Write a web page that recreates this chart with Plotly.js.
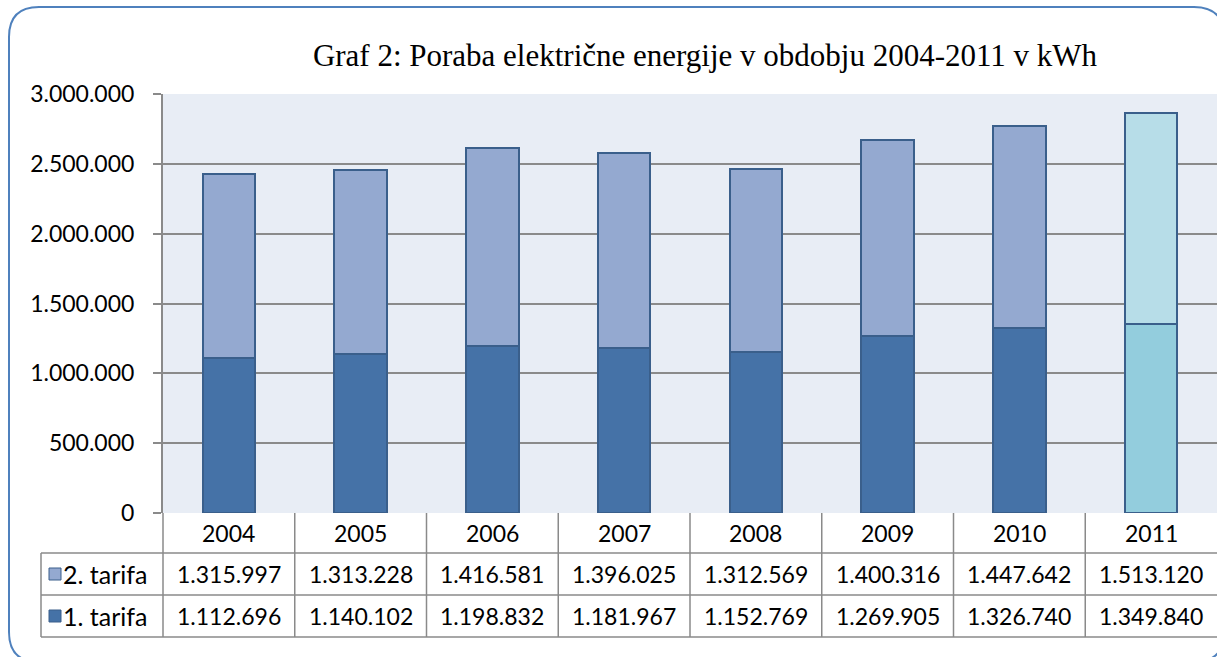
<!DOCTYPE html>
<html>
<head>
<meta charset="utf-8">
<script src="https://cdn.plot.ly/plotly-3.0.1.min.js"></script>
<style>
	html, body { margin: 0; padding: 0; background: #fff; }
	#chart { width: 1217px; height: 657px; }
</style>
</head>
<body>
<div id="chart"></div>
<script>
var years = ['2004', '2005', '2006', '2007', '2008', '2009', '2010', '2011'];
var tarifa1 = [1112696, 1140102, 1198832, 1181967, 1152769, 1269905, 1326740, 1349840];
var tarifa2 = [1315997, 1313228, 1416581, 1396025, 1312569, 1400316, 1447642, 1513120];
var seriesNames = ['2. tarifa', '1. tarifa'];

var chart = (function() {

	/* plot area in pixels */
	var W = 1217, H = 657;
	var left = 163, top = 94, bottom = 513;
	var plotW = W - left, plotH = bottom - top;

	function px(x) { return (x - left) / plotW; }
	function py(y) { return (bottom - y) / plotH; }

	function fmt(n) {
		return String(n).replace(/\B(?=(\d{3})+(?!\d))/g, '.');
	}

	var col1 = '#4572a7', col2 = '#94a9d0';
	var col1b = '#93cddd', col2b = '#b7dde8';
	var edge = '#3a5f8b';
	var grid = '#8a8a8a';
	var font = 'Lato, "Open Sans", sans-serif';

	var last = years.length - 1;
	var lowColors = years.map(function(y, i) { return i === last ? col1b : col1; });
	var topColors = years.map(function(y, i) { return i === last ? col2b : col2; });

	var data = [
		{ type: 'bar', name: seriesNames[1], x: years, y: tarifa1, width: 0.4,
		  marker: { color: lowColors, line: { color: edge, width: 2 } } },
		{ type: 'bar', name: seriesNames[0], x: years, y: tarifa2, width: 0.4,
		  marker: { color: topColors, line: { color: edge, width: 2 } } }
	];

	var shapes = [];
	var annotations = [];
	var lineStyle = { color: grid, width: 1.5 };

	function hline(y, x0, x1) {
		shapes.push({ type: 'line', xref: 'paper', yref: 'paper',
			x0: px(x0), x1: px(x1), y0: py(y), y1: py(y), line: lineStyle });
	}
	function vline(x, y0, y1) {
		shapes.push({ type: 'line', xref: 'paper', yref: 'paper',
			x0: px(x), x1: px(x), y0: py(y0), y1: py(y1), line: lineStyle });
	}

	// table grid
	hline(553, 41, W);
	hline(595, 41, W);
	hline(637, 41, W);
	vline(41, 553, 637);
	vline(left, 513, 637);
	for (var k = 0; k < years.length - 1; k++) {
		shapes.push({ type: 'line', xref: 'x', yref: 'paper',
			x0: k + 0.5, x1: k + 0.5, y0: py(513), y1: py(637), line: lineStyle });
	}

	// table text (category annotations are placed by index)
	var rows = [tarifa2, tarifa1];
	var rowY = [574, 616];
	years.forEach(function(yr, i) {
		annotations.push({ xref: 'x', yref: 'paper', x: i, y: py(533), text: yr,
			xanchor: 'center', yanchor: 'middle', showarrow: false,
			font: { family: font, size: 23, color: '#000' } });
		rows.forEach(function(vals, j) {
			annotations.push({ xref: 'x', yref: 'paper', x: i, y: py(rowY[j]), text: fmt(vals[i]),
				xanchor: 'center', yanchor: 'middle', showarrow: false,
				font: { family: font, size: 23, color: '#000' } });
		});
	});

	// legend keys in the table
	var keyColors = [col2, col1];
	seriesNames.forEach(function(name, j) {
		shapes.push({ type: 'rect', xref: 'paper', yref: 'paper',
			x0: px(49), x1: px(61), y0: py(rowY[j] - 6), y1: py(rowY[j] + 6),
			fillcolor: keyColors[j], line: { color: edge, width: 1 } });
		annotations.push({ xref: 'paper', yref: 'paper', x: px(61), y: py(rowY[j]),
			xanchor: 'left', yanchor: 'middle', text: name, showarrow: false,
			font: { family: font, size: 25, color: '#000' } });
	});

	// rounded outer border
	var r = 30, bx0 = 9, by0 = 7, bx1 = 1224, by1 = 662;
	var path = 'M ' + px(bx0) + ' ' + py(by0 + r) +
		' Q ' + px(bx0) + ' ' + py(by0) + ' ' + px(bx0 + r) + ' ' + py(by0) +
		' L ' + px(bx1 - r) + ' ' + py(by0) +
		' Q ' + px(bx1) + ' ' + py(by0) + ' ' + px(bx1) + ' ' + py(by0 + r) +
		' L ' + px(bx1) + ' ' + py(by1 - r) +
		' Q ' + px(bx1) + ' ' + py(by1) + ' ' + px(bx1 - r) + ' ' + py(by1) +
		' L ' + px(bx0 + r) + ' ' + py(by1) +
		' Q ' + px(bx0) + ' ' + py(by1) + ' ' + px(bx0) + ' ' + py(by1 - r) + ' Z';
	shapes.push({ type: 'path', xref: 'paper', yref: 'paper', path: path,
		line: { color: '#4f81bd', width: 2 } });

	var layout = {
		width: W, height: H,
		margin: { l: left, r: 0, t: top, b: H - bottom, pad: 0 },
		paper_bgcolor: '#ffffff',
		plot_bgcolor: '#e8edf5',
		barmode: 'stack',
		showlegend: false,
		separators: ',.',
		title: {
			text: 'Graf 2: Poraba električne energije v obdobju 2004-2011 v kWh',
			font: { family: '"Liberation Serif", serif', size: 31, color: '#000' },
			xref: 'container', yref: 'container',
			x: 705 / W, xanchor: 'center',
			y: 1 - 55 / H, yanchor: 'middle'
		},
		xaxis: {
			type: 'category',
			range: [-0.5, years.length - 0.5],
			showticklabels: false,
			showgrid: false,
			zeroline: false,
			ticks: ''
		},
		yaxis: {
			range: [0, 3000000],
			dtick: 500000,
			tickformat: ',d',
			showgrid: true,
			gridcolor: grid,
			gridwidth: 2,
			zeroline: false,
			showline: true,
			linecolor: grid,
			linewidth: 2,
			ticks: 'outside',
			ticklen: 8,
			tickwidth: 2,
			tickcolor: grid,
			ticklabelstandoff: 14,
			tickfont: { family: font, size: 23, color: '#000' }
		},
		shapes: shapes,
		annotations: annotations
	};

	Plotly.newPlot('chart', data, layout, { staticPlot: true, displayModeBar: false });
})();
</script>
</body>
</html>
